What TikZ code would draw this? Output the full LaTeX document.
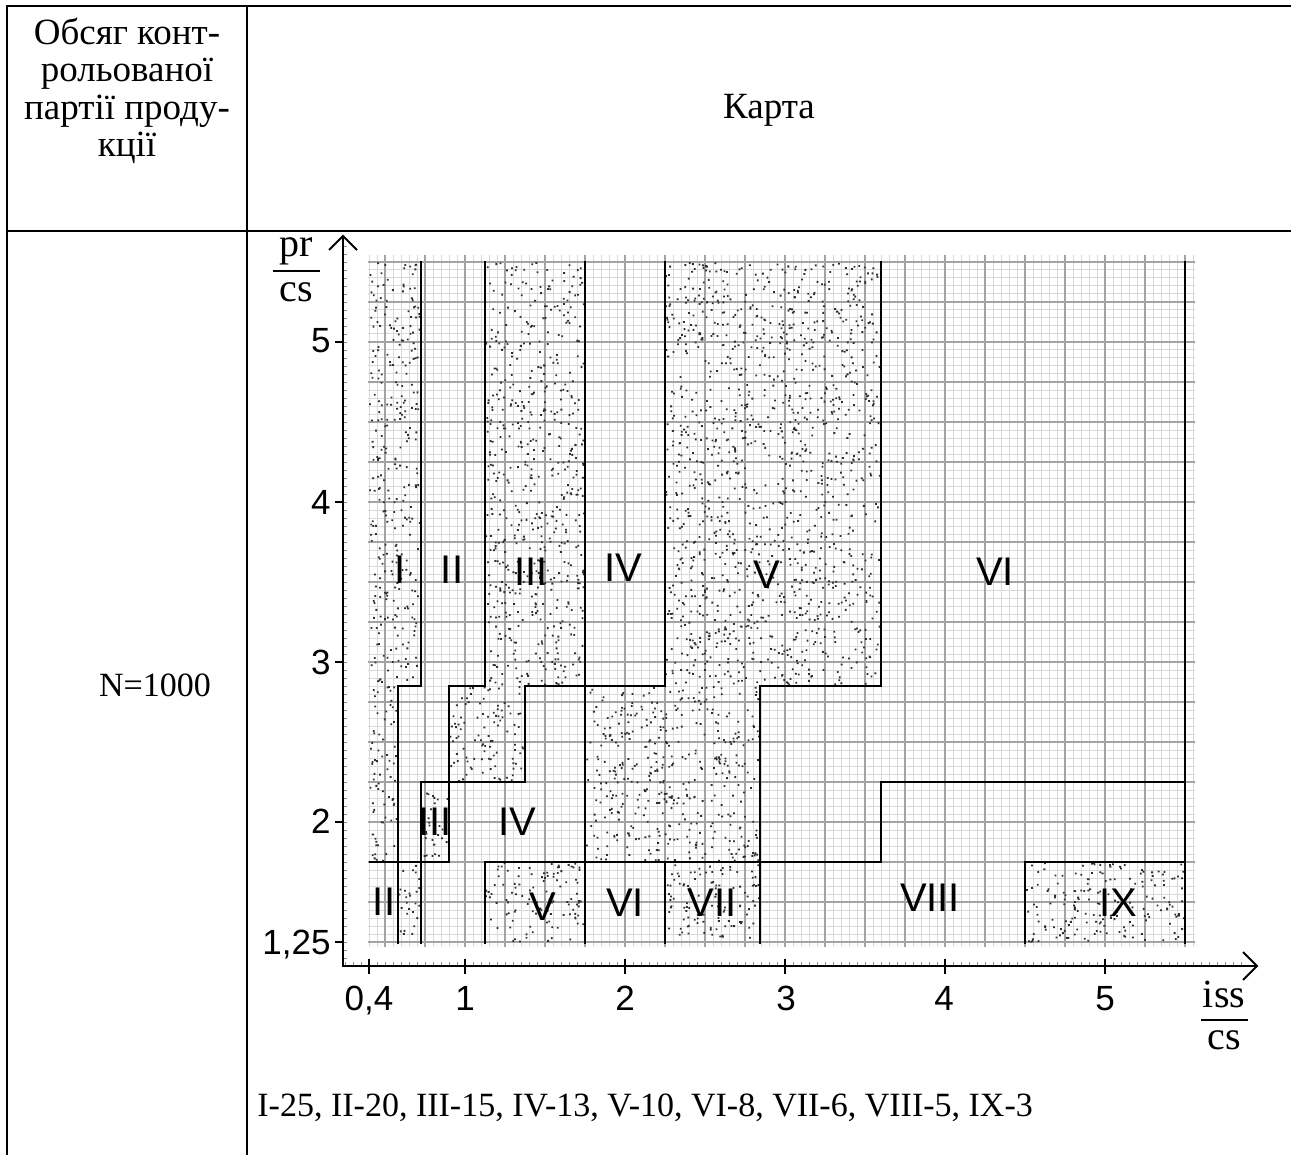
\documentclass[tikz,border=0pt]{standalone}
\usepackage{fontspec}
\setmainfont{Liberation Serif}
\newfontfamily\chartfont{Liberation Sans}
\newcommand\dotsin[5]{\fill[stip] foreach \i in {1,...,#5} {({#1+rnd*(#3-#1-1.8)},{#2+rnd*(#4-#2-1.8)}) rectangle ++(1.8,1.8)};}
\begin{document}
\begin{tikzpicture}[x=0.5pt,y=-0.5pt,
  tbl/.style={line width=1.3pt},
  minorgrid/.style={line width=0.5pt,draw=black!15},
  majorgrid/.style={line width=0.6pt,draw=black!36},
  bnd/.style={line width=1pt,line cap=rect},
  stip/.style={fill=black!82},
  axisline/.style={line width=1pt},
  smalltick/.style={line width=0.4pt,draw=black!45},
  txt/.style={inner sep=0pt,font=\fontsize{17}{18.75}\selectfont},
  cyr/.style={inner sep=0pt,font=\fontsize{18.5}{18.75}\selectfont},
  lbl/.style={inner sep=0pt,font=\chartfont\fontsize{20}{22}\selectfont},
  num/.style={inner sep=0pt,font=\chartfont\fontsize{17.5}{19}\selectfont},
  frac/.style={inner sep=0pt,font=\fontsize{20}{22}\selectfont}
]
\useasboundingbox (0,0) rectangle (1291,1155);
\fill[white] (0,0) rectangle (1291,1155);
% table
\draw[tbl] (6,6) -- (1291,6);
\draw[tbl] (6,231) -- (1291,231);
\draw[tbl] (7,6) -- (7,1155);
\draw[tbl] (247,6) -- (247,1155);
\node[cyr,align=center] (hdr) at (127,91) {Обсяг конт-\\рольованої\\партії проду-\\кції};
\node[cyr] (karta) at (769,110) {Карта};
\node[txt] (nval) at (155,685) {N=1000};
\node[txt,anchor=west] (legend) at (257,1108) {I-25, II-20, III-15, IV-13, V-10, VI-8, VII-6, VIII-5, IX-3};
% grid
\draw[minorgrid] foreach \k in {0,...,103} {(369+8*\k,255) -- (369+8*\k,947)};
\draw[minorgrid] foreach \k in {0,...,85} {(368,262+8*\k) -- (1195,262+8*\k)};
\draw[majorgrid] foreach \k in {0,...,20} {(385+40*\k,255) -- (385+40*\k,947)};
\draw[majorgrid] foreach \k in {0,...,17} {(368,262+40*\k) -- (1195,262+40*\k)};
% stipple
\pgfmathsetseed{4242}
\dotsin{369}{262}{421}{686}{300}
\dotsin{369}{686}{398}{862}{72}
\dotsin{398}{862}{421}{943}{26}
\dotsin{485}{262}{585}{686}{580}
\dotsin{449}{686}{525}{782}{100}
\dotsin{421}{782}{449}{862}{30}
\dotsin{665}{262}{881}{686}{1250}
\dotsin{585}{686}{760}{862}{415}
\dotsin{485}{862}{585}{943}{112}
\dotsin{665}{862}{760}{943}{107}
\dotsin{1025}{862}{1185}{943}{180}
% region boundaries
\draw[bnd] (421,262) -- (421,686) -- (398,686) -- (398,943);
\draw[bnd] (485,262) -- (485,686) -- (449,686) -- (449,862) -- (370,862);
\draw[bnd] (421,943) -- (421,782) -- (525,782) -- (525,686) -- (665,686) -- (665,262);
\draw[bnd] (585,262) -- (585,943);
\draw[bnd] (485,943) -- (485,862) -- (881,862) -- (881,782) -- (1185,782);
\draw[bnd] (881,262) -- (881,686) -- (760,686) -- (760,943);
\draw[bnd] (665,862) -- (665,943);
\draw[bnd] (1025,943) -- (1025,862) -- (1185,862);
\draw[bnd] (1185,262) -- (1185,943);
% axes
\draw[smalltick] foreach \k in {0,...,112} {(345+8*\k,966) -- (345+8*\k,962)};
\draw[smalltick] foreach \k in {0,...,89} {(343,958-8*\k) -- (347,958-8*\k)};
\draw[axisline] (343,967) -- (343,236);
\draw[axisline] (342,966) -- (1257,966);
\draw[axisline] (329,250) -- (343,236) -- (357,250);
\draw[axisline] (1243,952) -- (1257,966) -- (1243,980);
\draw[axisline] foreach \yy in {342,502,662,822,942} {(335,\yy) -- (343,\yy)};
\draw[axisline] foreach \xx in {369,465,625,785,945,1105} {(\xx,959) -- (\xx,974)};
% tick labels
\node[num,anchor=base east] (y5) at (331,352) {5};
\node[num,anchor=base east] (y4) at (331,514) {4};
\node[num,anchor=base east] (y3) at (331,674) {3};
\node[num,anchor=base east] (y2) at (331,833) {2};
\node[num,anchor=base east] (y125) at (331,954) {1,25};
\node[num,anchor=base] (x04) at (369,1010) {0,4};
\node[num,anchor=base] (x1) at (465,1010) {1};
\node[num,anchor=base] (x2) at (625,1010) {2};
\node[num,anchor=base] (x3) at (786,1010) {3};
\node[num,anchor=base] (x4) at (944,1010) {4};
\node[num,anchor=base] (x5) at (1105,1010) {5};
% axis titles
\node[frac,anchor=base] (pr) at (296,257) {pr};
\node[frac,anchor=base] (cs1) at (296,302) {cs};
\draw[line width=0.8pt] (273,271) -- (320,271);
\node[frac,anchor=base] (iss) at (1224,1007) {iss};
\node[frac,anchor=base] (cs2) at (1224,1049) {cs};
\draw[line width=0.8pt] (1201,1020) -- (1248,1020);
% region labels
\node[lbl] (r1) at (400,570) {I};
\node[lbl] (r2) at (452,570) {II};
\node[lbl] (r3) at (531,572) {III};
\node[lbl] (r4) at (623,568) {IV};
\node[lbl] (r5) at (767,575) {V};
\node[lbl] (r6) at (995,572) {VI};
\node[lbl] (r3b) at (435,822) {III};
\node[lbl] (r4b) at (517,822) {IV};
\node[lbl] (r2b) at (384,902) {II};
\node[lbl] (r5b) at (543,907) {V};
\node[lbl] (r6b) at (625,903) {VI};
\node[lbl] (r7) at (712,903) {VII};
\node[lbl] (r8) at (930,898) {VIII};
\node[lbl] (r9) at (1118,903) {IX};
\end{tikzpicture}
\end{document}
